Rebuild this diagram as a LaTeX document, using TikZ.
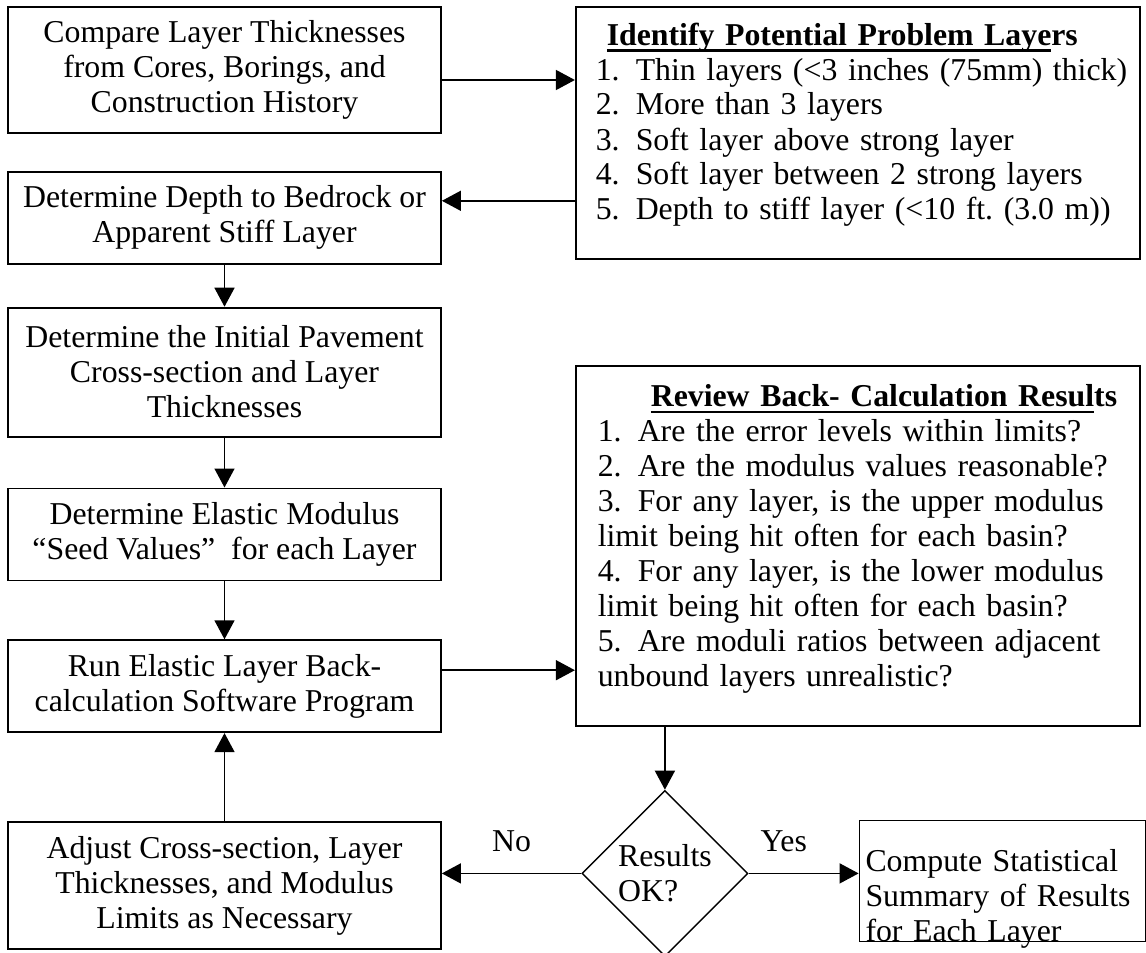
\documentclass[tikz,border=0pt]{standalone}
\usepackage{fontspec}
\setmainfont{Liberation Serif}
\usepackage{tikz}
\usetikzlibrary{positioning,shapes.geometric,arrows.meta}

\newcommand{\ulhead}[1]{\setbox0=\hbox{\bfseries #1}\rlap{\rule[-3.3pt]{\wd0}{1.4pt}}\box0}
\newcommand{\itm}[1]{\makebox[20pt][l]{#1.}}
\newcommand{\nowrap}{\rightskip=-30pt plus 1fil\relax}
\frenchspacing

\begin{document}
\begin{tikzpicture}[
        x=0.5pt, y=-0.5pt,
        >={Triangle[length=9.5pt,width=10pt]},
        font=\fontsize{15.9}{17.5}\selectfont,
        procbox/.style={draw, line width=0.9pt, align=center, inner sep=2pt, minimum width=216.5pt},
        listbox/.style={draw, line width=0.9pt, align=left, inner ysep=0pt, anchor=north west},
        decision/.style={draw, diamond, aspect=1, line width=0.7pt, align=left, inner sep=0pt,
                         minimum width=83pt, minimum height=83pt},
        arr/.style={->, line width=0.75pt},
        lbl/.style={inner sep=0pt}
        ]
        \useasboundingbox (0,0) rectangle (1146,953);

        % left column
        \node[procbox, minimum height=63pt] (compare) at (224.5,70)
            {Compare Layer Thicknesses\\from Cores, Borings, and\\Construction History};
        \node[procbox, minimum height=46pt, below=18.5pt of compare] (depth)
            {Determine Depth to Bedrock or\\Apparent Stiff Layer};
        \node[procbox, minimum height=64.5pt, below=21pt of depth] (initial)
            {Determine the Initial Pavement\\Cross-section and Layer\\Thicknesses};
        \node[procbox, minimum height=46pt, below=25pt of initial] (seed)
            {Determine Elastic Modulus\\“Seed Values”~ for each Layer};
        \node[procbox, minimum height=46pt, below=29pt of seed] (run)
            {Run Elastic Layer Back-\\calculation Software Program};
        \node[procbox, minimum height=63.5pt, below=44pt of run] (adjust)
            {Adjust Cross-section, Layer\\Thicknesses, and Modulus\\Limits as Necessary};

        % right column
        \node[listbox, text width=262pt, inner xsep=10pt, text height=19pt, text depth=107pt,
              right=66.5pt of compare.north east, anchor=north west] (problems)
            {\nowrap\hspace*{5.5pt}\ulhead{Identify Potential Problem Laye}\textbf{rs}\\
             \itm{1}Thin layers (<3 inches (75mm) thick)\\
             \itm{2}More than 3 layers\\
             \itm{3}Soft layer above strong layer\\
             \itm{4}Soft layer between 2 strong layers\\
             \itm{5}Depth to stiff layer (<10 ft. (3.0 m))};
        \node[listbox, text width=260pt, inner xsep=11pt, text height=20.5pt, text depth=159.5pt,
              below=52.5pt of problems.south west, anchor=north west] (review)
            {\nowrap\hspace*{26.5pt}\ulhead{Review Back- Calculation Resul}\textbf{ts}\\
             \itm{1}Are the error levels within limits?\\
             \itm{2}Are the modulus values reasonable?\\
             \itm{3}For any layer, is the upper modulus\\
             limit being hit often for each basin?\\
             \itm{4}For any layer, is the lower modulus\\
             limit being hit often for each basin?\\
             \itm{5}Are moduli ratios between adjacent\\
             unbound layers unrealistic?};
        \node[decision, below=31.5pt of review.south west, xshift=45pt] (ok) {Results\\OK?};
        \node[listbox, text width=137pt, inner xsep=3pt, text height=25.5pt, text depth=35pt,
              right=55pt of ok, yshift=-3.75pt] (stats)
            {\nowrap Compute Statistical\\Summary of Results\\for Each Layer};

        % connectors
        \draw[arr] ([yshift=-5pt]compare.east) -- ([yshift=-5pt]compare.east -| problems.west);
        \draw[arr] ([yshift=8.5pt]depth.east -| problems.west) -- ([yshift=8.5pt]depth.east);
        \draw[arr] (depth) -- (initial);
        \draw[arr] (initial) -- (seed);
        \draw[arr] (seed) -- (run);
        \draw[arr] ([yshift=8pt]run.east) -- ([yshift=8pt]run.east -| review.west);
        \draw[arr] (adjust) -- (run);
        \draw[arr] (review.south -| ok.north) -- (ok.north);
        \draw[arr] (ok.west) -- node[lbl, above=10.5pt] {No} (ok.west -| adjust.east);
        \draw[arr] (ok.east) -- node[lbl, above=10.5pt, pos=0.32] {Yes} (ok.east -| stats.west);
\end{tikzpicture}
\end{document}
